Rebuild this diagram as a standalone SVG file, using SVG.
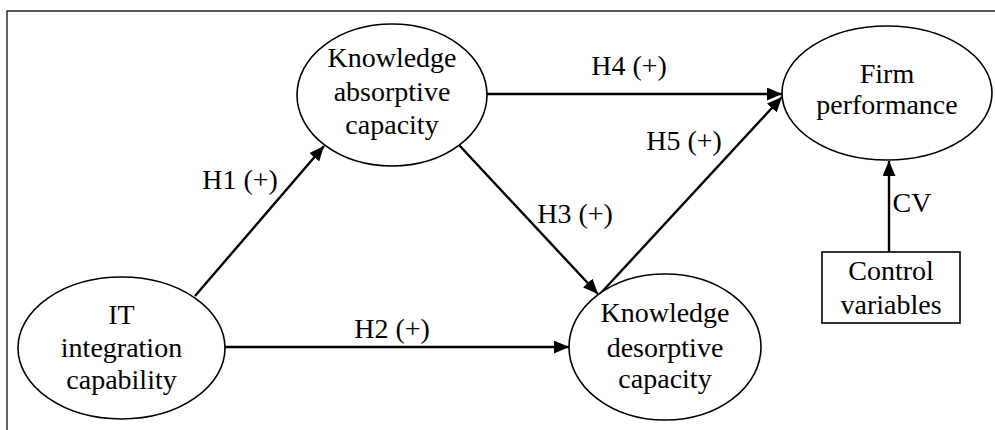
<svg xmlns="http://www.w3.org/2000/svg" width="995" height="430" viewBox="0 0 995 430">
  <style>
    .node { fill: #ffffff; stroke: #000000; stroke-width: 1.6; }
    .lbl { font-family: "Liberation Serif", "Times New Roman", serif; font-size: 28px; fill: #000000; text-anchor: middle; }
    .edge { stroke: #000000; stroke-width: 2.4; fill: none; marker-end: url(#arrow); }
    .frame { stroke: #222222; stroke-width: 1.4; fill: none; }
  </style>
  <defs>
    <marker id="arrow" markerUnits="userSpaceOnUse" markerWidth="16" markerHeight="14" refX="15" refY="6.5" orient="auto">
      <path d="M0,0 L15,6.5 L0,13 z" fill="#000000"/>
    </marker>
  </defs>
  <rect width="995" height="430" fill="#ffffff"/>
  <path class="frame" d="M7,440 L7,11 L1000,11"/>

  <g id="connectors">
    <line class="edge" x1="195" y1="296" x2="324" y2="146"/>
    <line class="edge" x1="225" y1="347" x2="569" y2="347"/>
    <line class="edge" x1="459" y1="145" x2="598" y2="294"/>
    <line class="edge" x1="487" y1="94" x2="782" y2="94"/>
    <line class="edge" x1="600" y1="294" x2="782" y2="97"/>
    <line class="edge" x1="889" y1="252" x2="889" y2="161"/>
    <text class="lbl" x="240" y="189">H1 (+)</text>
    <text class="lbl" x="392" y="338">H2 (+)</text>
    <text class="lbl" x="575" y="223">H3 (+)</text>
    <text class="lbl" x="629" y="75">H4 (+)</text>
    <text class="lbl" x="684" y="150">H5 (+)</text>
    <text class="lbl" x="912" y="212">CV</text>
  </g>

  <g id="it-integration">
    <ellipse class="node" cx="121.5" cy="348" rx="103.5" ry="71"/>
    <text class="lbl" x="121.5" y="324">IT</text>
    <text class="lbl" x="121.5" y="357">integration</text>
    <text class="lbl" x="121.5" y="389">capability</text>
  </g>

  <g id="absorptive">
    <ellipse class="node" cx="392" cy="95" rx="95" ry="71"/>
    <text class="lbl" x="392" y="67">Knowledge</text>
    <text class="lbl" x="392" y="101">absorptive</text>
    <text class="lbl" x="392" y="134">capacity</text>
  </g>

  <g id="desorptive">
    <ellipse class="node" cx="665" cy="347" rx="96" ry="73"/>
    <text class="lbl" x="665" y="322">Knowledge</text>
    <text class="lbl" x="665" y="357">desorptive</text>
    <text class="lbl" x="665" y="388">capacity</text>
  </g>

  <g id="firm-performance">
    <ellipse class="node" cx="887" cy="93" rx="105" ry="67"/>
    <text class="lbl" x="887" y="83">Firm</text>
    <text class="lbl" x="887" y="114">performance</text>
  </g>

  <g id="control-variables">
    <rect class="node" x="822" y="252" width="138" height="71"/>
    <text class="lbl" x="891" y="280">Control</text>
    <text class="lbl" x="891" y="314">variables</text>
  </g>
</svg>
